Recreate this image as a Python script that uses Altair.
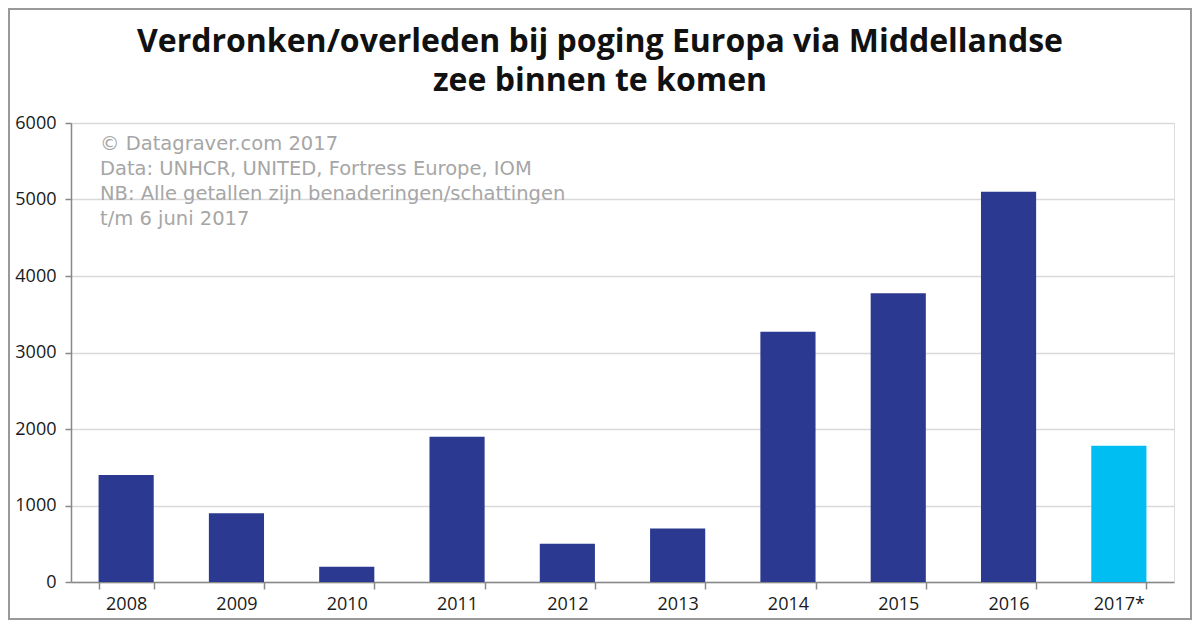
import altair as alt
import pandas as pd

years = ["2008", "2009", "2010", "2011", "2012", "2013", "2014", "2015", "2016", "2017*"]
deaths = [1400, 900, 200, 1900, 500, 700, 3270, 3775, 5100, 1780]
kinds = ["full"] * 9 + ["partial"]

title_lines = ["Verdronken/overleden bij poging Europa via Middellandse", "zee binnen te komen"]
note_lines = [
    "\u00a9 Datagraver.com 2017",
    "Data: UNHCR, UNITED, Fortress Europe, IOM",
    "NB: Alle getallen zijn benaderingen/schattingen",
    "t/m 6 juni 2017",
]
y_ticks = [0, 1000, 2000, 3000, 4000, 5000, 6000]

df = pd.DataFrame({"year": years, "deaths": deaths, "kind": kinds})

W, H = 1103, 459

bars = alt.Chart(df).mark_bar().encode(
    x=alt.X("year:N", sort=years, title=None,
            scale=alt.Scale(paddingInner=0.5, paddingOuter=0.25),
            axis=alt.Axis(labelAngle=0, tickBand="extent", tickSize=7, tickColor="#888888",
                          tickWidth=1.5, domainColor="#888888", domainWidth=1.5,
                          labelFont="Open Sans", labelFontSize=18, labelColor="#1a1a1a",
                          labelPadding=6, grid=False)),
    y=alt.Y("deaths:Q", title=None,
            scale=alt.Scale(domain=[0, 6000], nice=False),
            axis=alt.Axis(values=y_ticks, format="d", tickSize=6, tickColor="#888888", tickWidth=1.5,
                          domainColor="#888888", domainWidth=1.5,
                          gridColor="#d9d9d9", gridWidth=1.5,
                          labelFont="Open Sans", labelFontSize=18, labelColor="#1a1a1a",
                          labelPadding=9)),
    color=alt.Color("kind:N", legend=None,
                    scale=alt.Scale(domain=["full", "partial"], range=["#2b3990", "#00bdf2"])),
)

title_layers = [
    alt.Chart(pd.DataFrame({"t": [line]})).mark_text(
        font="Open Sans", fontSize=32, fontWeight="bold", color="#111111",
        align="center", baseline="alphabetic",
    ).encode(text="t:N", x=alt.value(529), y=alt.value(-71 + 39 * i))
    for i, line in enumerate(title_lines)
]

note_layers = [
    alt.Chart(pd.DataFrame({"t": [line]})).mark_text(
        font="DejaVu Sans", fontSize=19.5, color="#a6a6a6",
        align="left", baseline="alphabetic",
    ).encode(text="t:N", x=alt.value(29), y=alt.value(27 + 25 * i))
    for i, line in enumerate(note_lines)
]

frame = alt.Chart(pd.DataFrame({"a": [0]})).mark_rect(
    fill=None, stroke="#999999", strokeWidth=2, clip=False,
).encode(x=alt.value(-62), x2=alt.value(W + 17), y=alt.value(-114), y2=alt.value(H + 37))

chart = alt.layer(bars, *note_layers, *title_layers, frame).properties(
    width=W, height=H,
    padding={"left": 63, "top": 115, "right": 18, "bottom": 38},
    autosize=alt.AutoSizeParams(type="none"),
).configure_view(stroke=None).configure(background="white")

chart.save("out.html", embed_options={"renderer": "svg", "actions": False})
